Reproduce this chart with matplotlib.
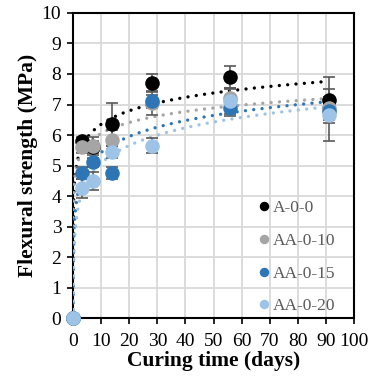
import numpy as np
import matplotlib.pyplot as plt

plt.rcParams['font.family'] = ['Liberation Serif', 'DejaVu Serif']

# curing times (days)
days = [0, 3, 7, 14, 28, 56, 91]

# flexural strength (MPa) and error bars per mix
names = ['A-0-0', 'AA-0-10', 'AA-0-15', 'AA-0-20']
a000 = [0, 5.8, 5.6, 6.35, 7.7, 7.9, 7.15]
a000_err = [0, 0.15, 0.2, 0.7, 0.3, 0.35, 0.75]
aa010 = [0, 5.6, 5.65, 5.85, 7.05, 7.2, 6.9]
aa010_err = [0, 0.2, 0.3, 0.3, 0.4, 0.35, 0.35]
aa015 = [0, 4.75, 5.1, 4.75, 7.1, 6.9, 6.8]
aa015_err = [0, 0.2, 0.15, 0.2, 0.2, 0.28, 0.3]
aa020 = [0, 4.25, 4.5, 5.45, 5.65, 7.1, 6.65]
aa020_err = [0, 0.3, 0.3, 0.2, 0.25, 0.4, 0.85]

series = [a000, aa010, aa015, aa020]
errors = [a000_err, aa010_err, aa015_err, aa020_err]
colors = ['#000000', '#A5A5A5', '#2E75B6', '#9DC3E6']

fig = plt.figure(figsize=(3.75, 3.81), dpi=100)
ax = fig.add_axes([0.195, 0.165, 0.749, 0.801])

x = np.array(days, dtype=float)
xt = np.logspace(-2, np.log10(91), 600)
for i, (y, err, c) in enumerate(zip(series, errors, colors)):
    y = np.array(y)
    # logarithmic trendline (fit excludes day 0)
    a, b = np.polyfit(np.log(x[1:]), y[1:], 1)
    yt = a * np.log(xt) + b
    m = yt >= 0
    ax.plot(xt[m], yt[m], color=c, lw=2.4, linestyle=(0, (0.01, 2.5)),
            dash_capstyle='round', zorder=3 + i * 0.1)
    ax.errorbar(x, y, yerr=err, fmt='none', ecolor='#595959', elinewidth=1.2,
                capsize=4, capthick=1.2, zorder=4 + i * 0.1)
    ax.plot(x, y, 'o', color=c, markersize=10.5, markeredgewidth=0,
            label=names[i], zorder=5 + i * 0.1, clip_on=False)

ax.set_xlim(0, 100)
ax.set_ylim(0, 10)
ax.set_xticks(range(0, 101, 10))
ax.set_yticks(range(0, 11))
ax.grid(True, color='#D9D9D9', lw=1.3)
ax.set_axisbelow(True)
for s in ax.spines.values():
    s.set_linewidth(1.5)
ax.tick_params(direction='out', length=4.5, width=1.2, labelsize=14, pad=4)
ax.tick_params(axis='x', pad=6)
ax.set_xlabel('Curing time (days)', fontsize=15.5, fontweight='bold', labelpad=1)
ax.set_ylabel('Flexural strength (MPa)', fontsize=15.5, fontweight='bold', labelpad=3)

leg = ax.legend(loc='lower right', frameon=False, fontsize=12.5, markerscale=0.65,
                handlelength=0.6, handletextpad=0.25, labelspacing=0.95,
                borderaxespad=0.0, bbox_to_anchor=(0.96, -0.01))
for t in leg.get_texts():
    t.set_color('#595959')

fig.savefig('out.png', dpi=100)
